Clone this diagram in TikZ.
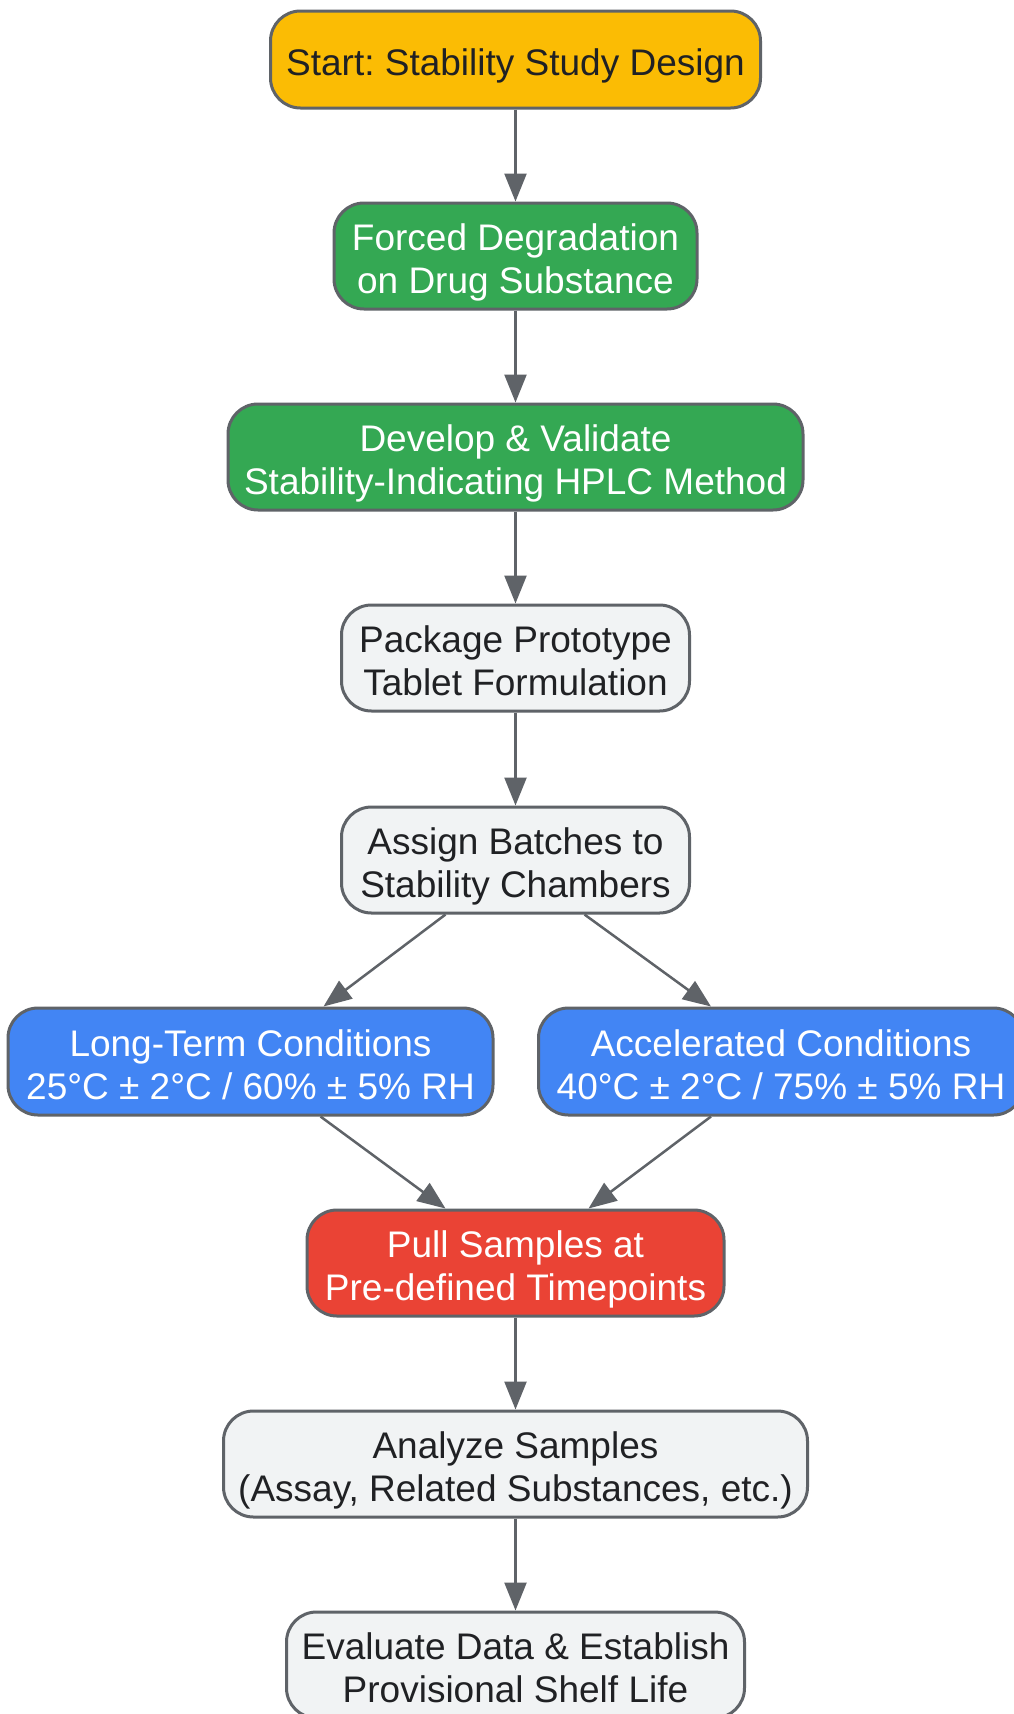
\documentclass[tikz,border=0pt]{standalone}
\usepackage{fontspec}
\setmainfont{Liberation Sans}
\usetikzlibrary{arrows.meta,calc}
\definecolor{bordergray}{HTML}{5F6368}
\definecolor{txtdark}{HTML}{202124}
\definecolor{cyellow}{HTML}{FBBC04}
\definecolor{cgreen}{HTML}{34A853}
\definecolor{cblue}{HTML}{4285F4}
\definecolor{cred}{HTML}{EA4335}
\definecolor{clight}{HTML}{F1F3F4}
\tikzset{
  box/.style={draw=bordergray, line width=3pt, rounded corners=30pt, align=center,
    inner xsep=4pt, inner ysep=0pt, minimum height=106pt, text depth=0pt, text height=75pt,
    font=\fontsize{37}{43}\selectfont\frenchspacing},
  ybox/.style={box, fill=cyellow, text=txtdark},
  gbox/.style={box, fill=cgreen, text=white},
  bbox/.style={box, fill=cblue, text=white},
  rbox/.style={box, fill=cred, text=white},
  lbox/.style={box, fill=clight, text=txtdark},
  conn/.style={draw=bordergray, line width=2.5pt, -{Triangle[length=28pt,width=22pt]}}
}
\begin{document}
\begin{tikzpicture}[x=1pt,y=-1pt]
\clip (0,0) rectangle (1014,1714);
\fill[white] (0,0) rectangle (1014,1714);
\node[ybox, minimum width=490pt, minimum height=97pt, text height=31pt] (start) at (515.5,59.5) {Start: Stability Study Design};
\node[gbox, minimum width=363pt] (forced) at (515.5,256) {Forced Degradation\\on Drug Substance};
\node[gbox, minimum width=575pt] (develop) at (515.5,457) {Develop \& Validate\\Stability-Indicating HPLC Method};
\node[lbox, minimum width=348pt] (package) at (515.5,658) {Package Prototype\\Tablet Formulation};
\node[lbox, minimum width=348pt] (assign) at (515.5,860) {Assign Batches to\\Stability Chambers};
\node[bbox, minimum width=485pt, minimum height=107pt] (lt) at (250.5,1061.5) {Long-Term Conditions\\25°C ± 2°C / 60\% ± 5\% RH};
\node[bbox, minimum width=485pt, minimum height=107pt] (acc) at (781,1061.5) {Accelerated Conditions\\40°C ± 2°C / 75\% ± 5\% RH};
\node[rbox, minimum width=417pt] (pull) at (515.5,1263) {Pull Samples at\\Pre-defined Timepoints};
\node[lbox, minimum width=584pt] (analyze) at (515.5,1464) {Analyze Samples\\(Assay, Related Substances, etc.)};
\node[lbox, minimum width=458pt] (eval) at (515.5,1665) {Evaluate Data \& Establish\\Provisional Shelf Life};

\draw[conn] (start.south) -- (forced.north);
\draw[conn] (forced.south) -- (develop.north);
\draw[conn] (develop.south) -- (package.north);
\draw[conn] (package.south) -- (assign.north);
\draw[conn] ($(assign.south)+(-70,0)$) -- ($(lt.north)+(73,0)$);
\draw[conn] ($(assign.south)+(69,0)$) -- ($(acc.north)+(-70,0)$);
\draw[conn] ($(lt.south)+(70,0)$) -- ($(pull.north)+(-70,0)$);
\draw[conn] ($(acc.south)+(-70,0)$) -- ($(pull.north)+(73,0)$);
\draw[conn] (pull.south) -- (analyze.north);
\draw[conn] (analyze.south) -- (eval.north);
\end{tikzpicture}
\end{document}
